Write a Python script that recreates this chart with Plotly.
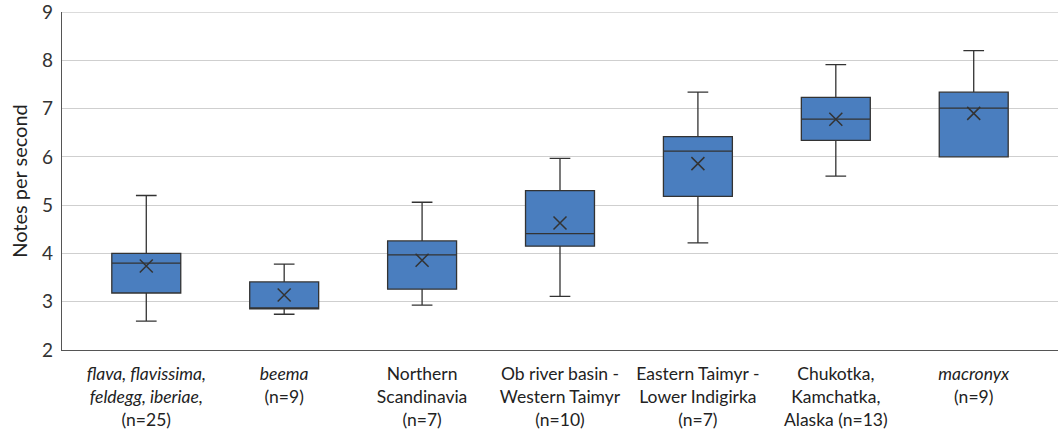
import plotly.graph_objects as go

categories = [
    "<i>flava, flavissima,</i><br><i>feldegg, iberiae,</i><br>(n=25)",
    "<i>beema</i><br>(n=9)",
    "Northern<br>Scandinavia<br>(n=7)",
    "Ob river basin -<br>Western Taimyr<br>(n=10)",
    "Eastern Taimyr -<br>Lower Indigirka<br>(n=7)",
    "Chukotka,<br>Kamchatka,<br>Alaska (n=13)",
    "<i>macronyx</i><br>(n=9)",
]
lower = [2.6, 2.74, 2.93, 3.11, 4.22, 5.6, 6.0]
q1 = [3.18, 2.85, 3.26, 4.15, 5.18, 6.34, 6.0]
median = [3.8, 2.87, 3.97, 4.41, 6.12, 6.78, 7.01]
q3 = [4.0, 3.41, 4.26, 5.3, 6.42, 7.23, 7.34]
upper = [5.2, 3.78, 5.06, 5.97, 7.34, 7.91, 8.2]
mean = [3.74, 3.14, 3.86, 4.63, 5.86, 6.78, 6.9]
y_ticks = [2, 3, 4, 5, 6, 7, 8, 9]

fig = go.Figure()
fig.add_trace(go.Box(
    x=categories, q1=q1, median=median, q3=q3,
    lowerfence=lower, upperfence=upper,
    fillcolor="#4a7ebf", line=dict(color="#333333", width=1.3),
    whiskerwidth=0.3, width=0.5, boxpoints=False, showlegend=False,
    hoverinfo="skip",
))
fig.add_trace(go.Scatter(
    x=categories, y=mean, mode="markers",
    marker=dict(symbol="x-thin-open", size=13, color="#333333",
                line=dict(color="#333333", width=1.5)),
    showlegend=False, hoverinfo="skip",
))
fig.update_layout(
    width=1060, height=433,
    margin=dict(l=62, r=2, t=12, b=83),
    paper_bgcolor="white", plot_bgcolor="white",
    font=dict(family="Lato", size=17, color="#222222"),
)
fig.add_shape(type="line", xref="paper", yref="y", x0=0, x1=1, y0=max(y_ticks), y1=max(y_ticks),
              line=dict(color="#cfcfcf", width=1.3), layer="below")
fig.update_yaxes(
    range=[2, 9.0001], tickvals=y_ticks, ticktext=[str(v) for v in y_ticks],
    showgrid=True, gridcolor="#cfcfcf", gridwidth=1.3,
    showline=True, linecolor="#555555", linewidth=1.3, zeroline=False,
    tickfont=dict(size=19, color="#333333"), ticks="", ticklen=0,
    ticklabelstandoff=4, automargin=False, ticklabeloverflow="allow",
    title=dict(text="Notes per second", font=dict(size=20), standoff=9),
)
fig.update_xaxes(
    showline=True, linecolor="#555555", linewidth=1.3,
    tickfont=dict(size=17.5), ticks="", automargin=False, ticklabelstandoff=8,
)
fig.write_html("out.html", config={"displayModeBar": False},
               post_script="document.body.style.margin='0';")
